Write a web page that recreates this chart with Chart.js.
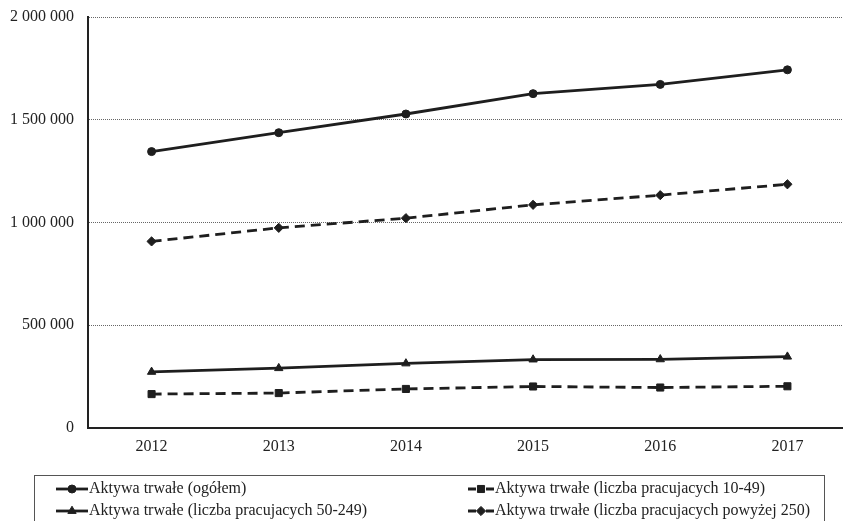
<!DOCTYPE html>
<html>
<head>
<meta charset="utf-8">
<script src="https://cdn.jsdelivr.net/npm/chart.js@4"></script>
<style>
  html, body { margin: 0; padding: 0; background: #fff; overflow: hidden; }
  #wrap { position: absolute; left: 0; top: 0; width: 870px; height: 545px; }
</style>
</head>
<body>
<div id="wrap"><canvas id="c" width="870" height="545"></canvas></div>
<script>
// Years on the category axis
const years = ['2012', '2013', '2014', '2015', '2016', '2017'];

// Fixed assets by enterprise size
const ogolem      = [1345000, 1437000, 1528000, 1627000, 1672000, 1743000];
const prac10_49   = [165000, 170000, 190000, 202000, 197000, 203000];
const prac50_249  = [273000, 291000, 314000, 333000, 334000, 347000];
const prac250plus = [908000, 974000, 1021000, 1086000, 1133000, 1186000];

const seriesLabels = [
  'Aktywa trwałe (ogółem)',
  'Aktywa trwałe (liczba pracujacych 10-49)',
  'Aktywa trwałe (liczba pracujacych 50-249)',
  'Aktywa trwałe (liczba pracujacych powyżej 250)'
];

// Y axis range and step
const yMin = 0, yMax = 2000000, yStep = 500000;

const INK = '#1e1e1e';
const FONT = 'Liberation Serif';

function fmt(v) {
  return String(v).replace(/\B(?=(\d{3})+(?!\d))/g, ' ');
}

function ds(label, data, pointStyle, radius, dash) {
  return {
    label, data, pointStyle,
    borderColor: INK, backgroundColor: INK,
    borderWidth: 2.8, borderDash: dash,
    pointRadius: radius, pointHoverRadius: radius,
    pointBorderWidth: 1, pointBackgroundColor: INK, pointBorderColor: INK,
    tension: 0, fill: false
  };
}

// Boxed two-column legend below the plot
const boxedLegend = {
  id: 'boxedLegend',
  afterDraw(chart) {
    const ctx = chart.ctx;
    ctx.save();
    ctx.strokeStyle = '#555';
    ctx.lineWidth = 1;
    ctx.strokeRect(34.5, 475.5, 790, 100);
    const cols = [56, 468];
    const rows = [489, 511];
    const symW = [32, 26];
    chart.data.datasets.forEach((d, i) => {
      const col = i % 2, row = Math.floor(i / 2);
      const x0 = cols[col], y = rows[row], w = symW[col];
      ctx.save();
      ctx.strokeStyle = INK;
      ctx.lineWidth = 2.8;
      ctx.setLineDash(d.borderDash && d.borderDash.length ? [8, 10] : []);
      ctx.beginPath();
      ctx.moveTo(x0, y);
      ctx.lineTo(x0 + w, y);
      ctx.stroke();
      ctx.restore();
      ctx.fillStyle = INK;
      ctx.strokeStyle = INK;
      ctx.lineWidth = 1;
      Chart.helpers.drawPoint(ctx, { pointStyle: d.pointStyle, radius: d.pointRadius, rotation: 0, borderWidth: 1 }, x0 + w / 2, y);
      ctx.fillStyle = '#222';
      ctx.font = '16px "' + FONT + '"';
      ctx.textBaseline = 'middle';
      ctx.textAlign = 'left';
      ctx.fillText(d.label, x0 + w + 1, y);
    });
    ctx.restore();
  }
};

new Chart(document.getElementById('c'), {
  type: 'line',
  data: {
    labels: years,
    datasets: [
      ds(seriesLabels[0], ogolem, 'circle', 4, []),
      ds(seriesLabels[1], prac10_49, 'rect', 5, [10, 6]),
      ds(seriesLabels[2], prac50_249, 'triangle', 4.8, []),
      ds(seriesLabels[3], prac250plus, 'rectRot', 4.6, [10, 6])
    ]
  },
  options: {
    responsive: false,
    animation: false,
    devicePixelRatio: 1,
    layout: { padding: { top: 17, right: 19, bottom: 77, left: 0 } },
    plugins: { legend: { display: false }, tooltip: { enabled: false } },
    scales: {
      x: {
        offset: true,
        grid: { display: false, drawTicks: false },
        border: { display: true, color: '#222', width: 2 },
        ticks: { padding: 9, color: '#222', font: { family: FONT, size: 16 } },
        afterFit(s) { s.height = 40; s.paddingLeft = 0; s.paddingRight = 0; }
      },
      y: {
        min: yMin, max: yMax,
        grid: {
          drawTicks: false,
          lineWidth: 1,
          color: (c) => (c.tick && c.tick.value === 0) ? 'rgba(0,0,0,0)' : '#666'
        },
        border: { display: true, color: '#222', width: 2, dash: [1, 1] },
        ticks: {
          stepSize: yStep, padding: 14, color: '#222',
          font: { family: FONT, size: 16 },
          callback: (v) => fmt(v)
        },
        afterFit(s) { s.width = 88; s.paddingTop = 0; s.paddingBottom = 0; }
      }
    }
  },
  plugins: [boxedLegend]
});
</script>
</body>
</html>
